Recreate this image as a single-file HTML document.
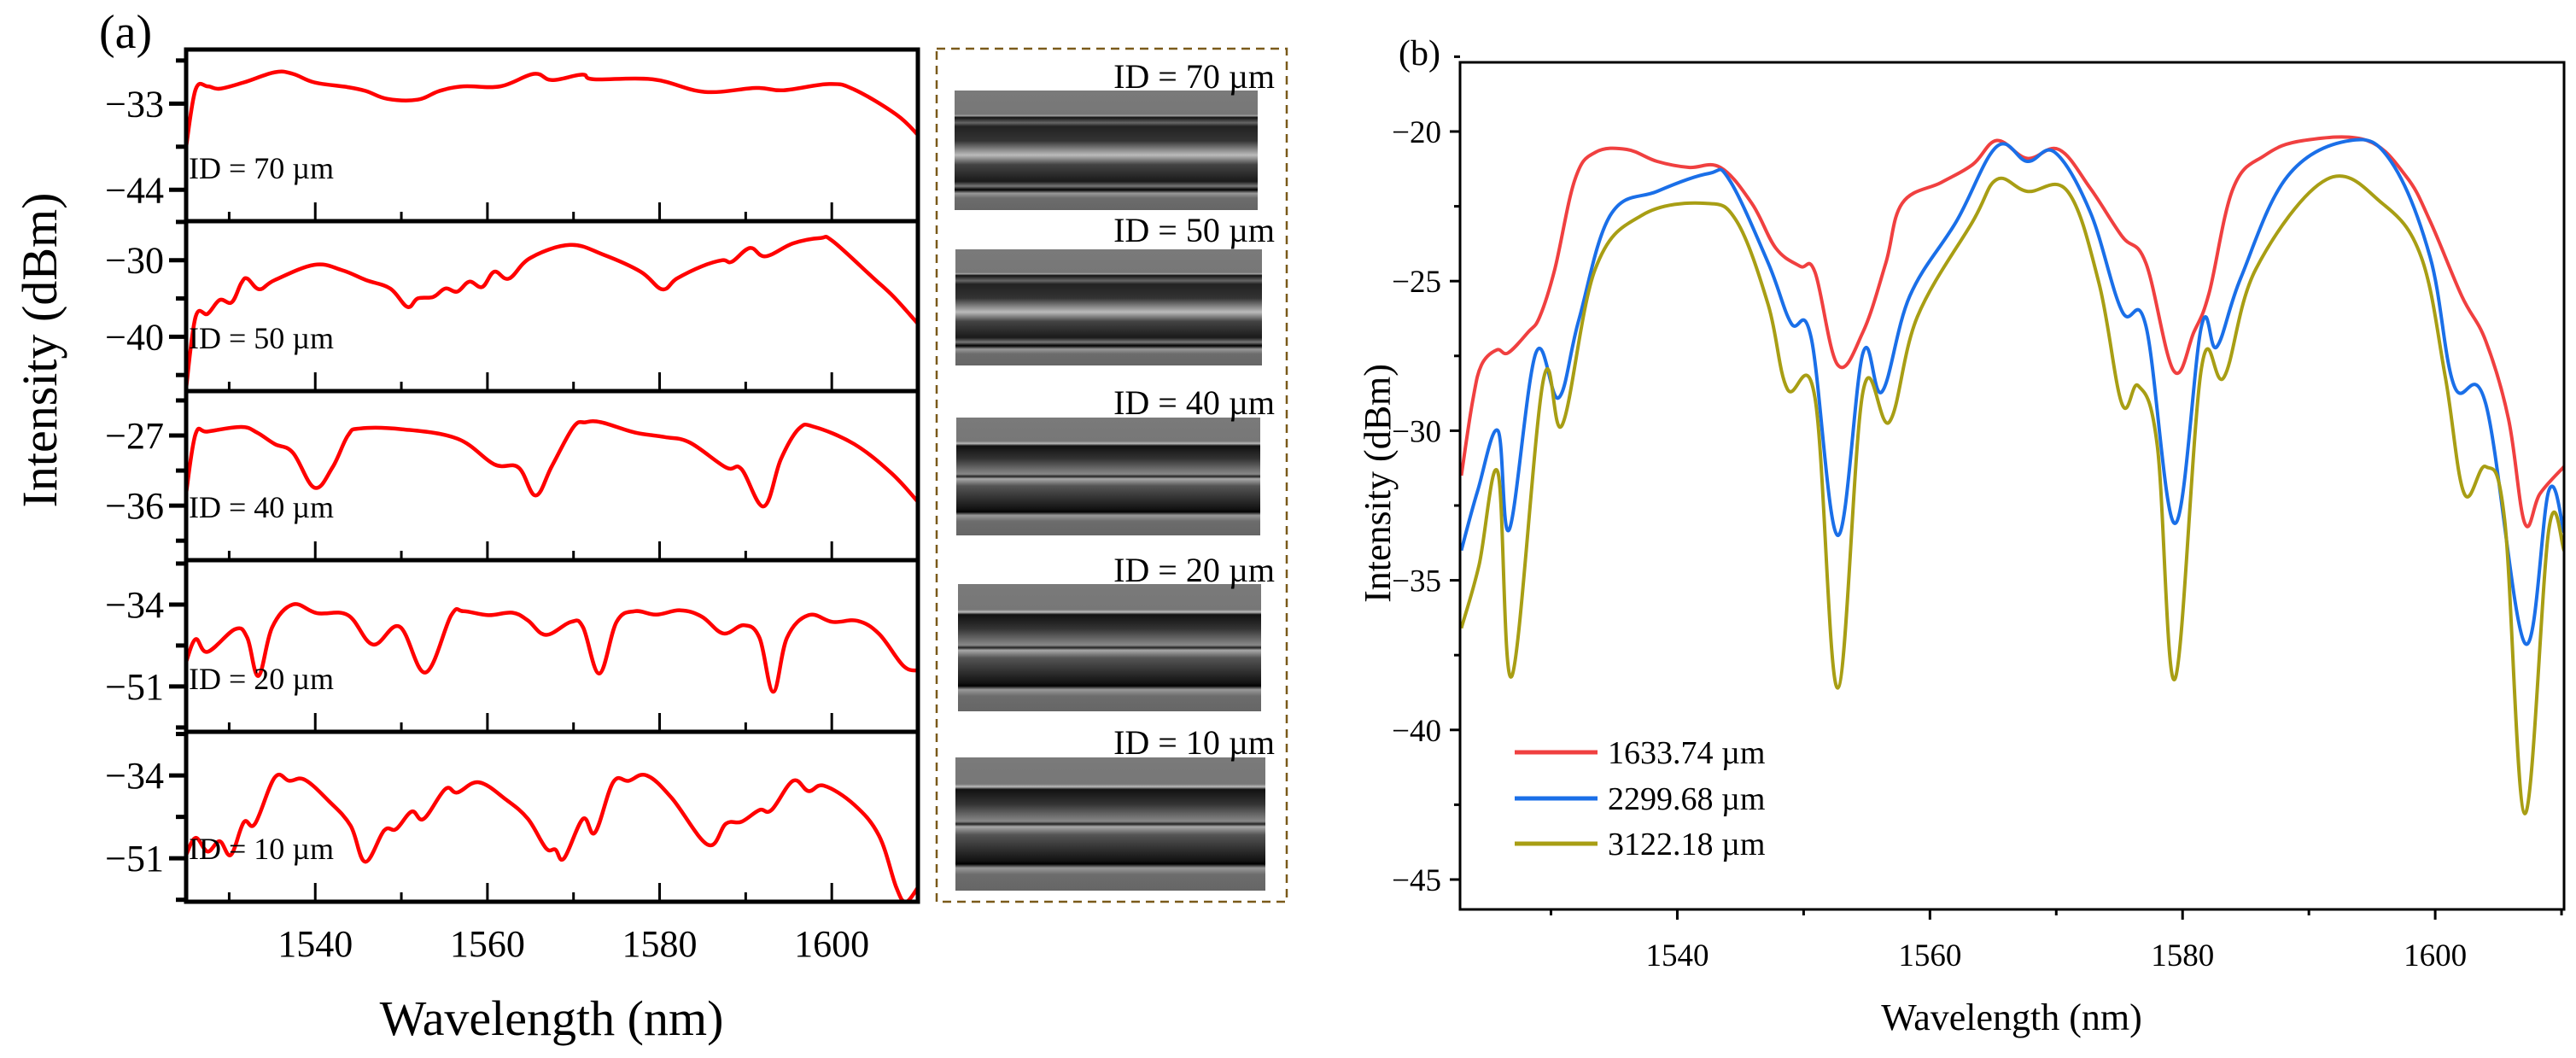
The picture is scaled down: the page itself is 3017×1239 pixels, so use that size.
<!DOCTYPE html>
<html><head><meta charset="utf-8"><style>
html,body{margin:0;padding:0;background:#fff;}
body{width:3017px;height:1239px;overflow:hidden;position:relative;font-family:"Liberation Serif",serif;}
</style></head><body>
<svg id="fig" width="3017" height="1239" viewBox="0 0 3017 1239" xmlns="http://www.w3.org/2000/svg" style="position:absolute;left:0;top:0;font-family:'Liberation Serif',serif;">
<defs>
<linearGradient id="gA" x1="0" y1="0" x2="0" y2="1">
<stop offset="0" stop-color="#7a7a7a"/><stop offset="0.2" stop-color="#777"/>
<stop offset="0.21" stop-color="#aaa"/><stop offset="0.225" stop-color="#111"/><stop offset="0.27" stop-color="#666"/>
<stop offset="0.3" stop-color="#222"/><stop offset="0.42" stop-color="#333"/><stop offset="0.54" stop-color="#bbb"/>
<stop offset="0.62" stop-color="#444"/><stop offset="0.76" stop-color="#1a1a1a"/><stop offset="0.8" stop-color="#777"/>
<stop offset="0.83" stop-color="#000"/><stop offset="0.86" stop-color="#999"/><stop offset="0.9" stop-color="#6c6c6c"/>
<stop offset="1" stop-color="#666"/></linearGradient>
<linearGradient id="gB" x1="0" y1="0" x2="0" y2="1">
<stop offset="0" stop-color="#7a7a7a"/><stop offset="0.2" stop-color="#777"/>
<stop offset="0.22" stop-color="#bbb"/><stop offset="0.24" stop-color="#111"/><stop offset="0.35" stop-color="#333"/>
<stop offset="0.48" stop-color="#888"/><stop offset="0.5" stop-color="#222"/><stop offset="0.52" stop-color="#aaa"/>
<stop offset="0.58" stop-color="#555"/><stop offset="0.78" stop-color="#111"/><stop offset="0.8" stop-color="#000"/>
<stop offset="0.83" stop-color="#999"/><stop offset="0.88" stop-color="#6c6c6c"/><stop offset="1" stop-color="#666"/></linearGradient>
<clipPath id="clipR"><rect x="1710" y="73" width="1293" height="992"/></clipPath>
</defs>
<g id="left"></g>
<g id="images"></g>
<g id="right"></g>
</svg>
<script>
// ---------- shared x domain ----------
const xDomain = [1525, 1610];
const xDomainB = [1522.8, 1610.2];
const xTicks = [1540, 1560, 1580, 1600];
const xMinor = [1530, 1550, 1570, 1590];

// ---------- panel (a) data ----------
const idLabels = ["ID = 70 µm","ID = 50 µm","ID = 40 µm","ID = 20 µm","ID = 10 µm"];
const aTicks = [[-33,-44],[-30,-40],[-27,-36],[-34,-51],[-34,-51]];
const aDomains = [[-26.1,-48.0],[-24.9,-47.1],[-21.3,-43.0],[-24.8,-60.4],[-25.05,-59.9]];
const wl70 = [1525,1526.1,1527.5,1528.9,1531.7,1535.3,1537.4,1539.9,1543.8,1545.9,1548.4,1551.9,1554.4,1557.2,1561.5,1565.4,1567.5,1571.0,1572.4,1579.2,1585.2,1591.2,1594.4,1599.7,1602.6,1607.5,1610];
const id70 = [-38.5,-31.2,-30.8,-31.1,-30.3,-29.0,-29.2,-30.3,-30.9,-31.4,-32.4,-32.5,-31.4,-30.8,-30.8,-29.2,-30.0,-29.3,-29.9,-29.9,-31.5,-31.0,-31.3,-30.5,-31.2,-34.4,-37.0];
const wl50 = [1525,1526.1,1527.5,1528.9,1530.3,1531.4,1532.1,1533.5,1535.3,1539.9,1543.1,1545.9,1548.7,1550.7,1551.9,1553.7,1555.1,1556.5,1557.9,1559.4,1560.8,1562.5,1565.0,1569.6,1573.5,1577.8,1580.3,1582.0,1584.9,1587.3,1588.4,1590.5,1592.3,1595.5,1598.7,1600.1,1604.7,1607.2,1610];
const id50 = [-46.7,-37.4,-37.0,-35.2,-35.5,-33.0,-32.4,-33.8,-32.6,-30.6,-31.3,-32.6,-33.7,-36.1,-35.0,-34.8,-33.7,-34.1,-32.8,-33.5,-31.5,-32.4,-29.7,-28.0,-29.3,-31.5,-33.8,-32.4,-30.8,-30.0,-30.2,-28.4,-29.5,-27.8,-27.1,-27.5,-32.2,-34.8,-38.3];
const wl40 = [1525,1526.1,1527.5,1531.4,1533.2,1535.3,1537.4,1539.9,1542.0,1543.8,1545.2,1550.1,1556.5,1560.8,1563.6,1565.6,1567.5,1570.0,1571.4,1573.2,1577.1,1580.6,1583.5,1587.7,1589.5,1592.1,1594.1,1596.2,1598.0,1602.6,1606.9,1610];
const id40 = [-34.4,-26.8,-26.5,-25.9,-26.6,-28.1,-29.2,-33.7,-31.1,-27.0,-26.1,-26.2,-27.4,-30.7,-31.1,-34.7,-30.9,-25.9,-25.3,-25.3,-26.6,-27.2,-27.9,-31.1,-31.3,-36.1,-30.0,-26.1,-25.9,-28.1,-31.8,-35.5];
const wl20 = [1525,1526.1,1527.5,1530.7,1532.1,1533.4,1535.0,1537.4,1540.2,1543.8,1546.7,1549.8,1552.8,1555.8,1557.2,1560.1,1562.9,1564.7,1566.8,1569.7,1571.1,1573.0,1575.0,1577.1,1579.6,1582.4,1584.9,1587.4,1589.8,1591.6,1593.2,1594.8,1597.3,1600.1,1603.0,1605.5,1608.3,1610];
const id20 = [-45.9,-41.2,-43.8,-39.1,-40.9,-48.8,-38.7,-34.0,-35.8,-36.2,-42.3,-38.6,-48.1,-36.2,-35.4,-36.2,-35.7,-37.3,-40.3,-37.6,-38.7,-48.3,-37.6,-35.4,-36.1,-35.2,-36.5,-40.0,-38.3,-40.9,-52.1,-40.9,-36.2,-37.6,-37.4,-40.1,-46.7,-47.7];
const wl10 = [1525,1526.1,1527.5,1528.9,1530.2,1531.7,1533.0,1535.3,1537.0,1538.8,1541.6,1544.1,1545.8,1548.0,1549.4,1551.2,1552.6,1555.1,1556.5,1559.0,1562.2,1564.7,1566.8,1567.9,1568.9,1571.1,1572.5,1574.6,1576.4,1578.5,1581.4,1585.6,1587.7,1589.5,1591.6,1593.0,1595.5,1597.3,1599.1,1602.6,1605.5,1607.5,1608.6,1610];
const id10 = [-50.3,-46.8,-49.6,-47.5,-50.3,-43.6,-43.9,-34.4,-35.1,-34.9,-39.3,-44.3,-51.7,-45.3,-45.0,-41.4,-42.9,-36.8,-37.5,-35.4,-39.0,-42.9,-48.9,-49.2,-51.0,-42.9,-45.7,-35.4,-35.1,-34.0,-38.6,-48.2,-43.9,-43.5,-41.1,-41.1,-35.1,-37.2,-36.1,-40.0,-46.4,-57.0,-59.9,-57.0];
const aWl = [wl70, wl50, wl40, wl20, wl10];
const aVals = [id70, id50, id40, id20, id10];

// ---------- panel (b) data ----------
const bLegend = ["1633.74 µm","2299.68 µm","3122.18 µm"];
const bYTicks = [-20,-25,-30,-35,-40,-45];
const bWlRed = [1522.9,1523.8,1524.5,1525.7,1526.6,1528.2,1529.1,1530.3,1531.9,1533.5,1536.0,1538.4,1540.9,1543.4,1545.9,1547.8,1549.7,1550.9,1552.7,1554.7,1556.5,1557.8,1560.9,1563.4,1565.3,1567.7,1570.2,1572.7,1575.2,1577.1,1579.3,1580.9,1582.1,1584.0,1586.5,1589.6,1594.6,1597.7,1599.6,1602.1,1604.0,1605.8,1607.1,1608.3,1610.2];
const bRed = [-31.5,-29.0,-27.8,-27.3,-27.4,-26.7,-26.2,-24.6,-21.6,-20.7,-20.6,-21.0,-21.2,-21.2,-22.4,-23.9,-24.5,-24.7,-27.8,-26.7,-24.4,-22.4,-21.7,-21.1,-20.3,-20.9,-20.6,-21.9,-23.5,-24.4,-28.0,-26.7,-25.4,-21.9,-20.8,-20.3,-20.3,-21.5,-23.0,-25.5,-27.0,-29.6,-33.1,-32.1,-31.2];
const bWlBlue = [1522.9,1524.2,1525.8,1526.7,1528.8,1530.6,1532.2,1534.7,1538.4,1542.5,1544.1,1547.2,1549.0,1550.6,1552.7,1554.7,1556.2,1558.4,1562.1,1565.3,1567.7,1569.9,1572.7,1575.2,1577.1,1579.4,1581.5,1582.7,1584.6,1588.3,1593.3,1596.5,1599.6,1601.5,1604.0,1607.1,1609.0,1610.2];
const bBlue = [-34.0,-32.0,-30.0,-33.3,-27.4,-28.9,-26.3,-22.8,-22.0,-21.4,-21.6,-24.4,-26.4,-26.9,-33.5,-27.4,-28.7,-25.5,-23.0,-20.5,-21.0,-20.7,-22.7,-26.0,-26.5,-33.1,-26.5,-27.2,-24.9,-21.5,-20.3,-21.0,-24.2,-28.5,-29.1,-37.1,-32.0,-33.4];
const bWlOlive = [1522.9,1524.3,1525.8,1526.9,1529.4,1530.9,1533.5,1537.2,1542.2,1544.7,1547.2,1548.7,1550.9,1552.7,1554.7,1556.8,1559.0,1563.4,1565.3,1567.7,1570.9,1573.4,1575.2,1576.5,1578.0,1579.4,1581.5,1583.3,1585.8,1591.4,1595.8,1598.9,1600.8,1602.3,1604.0,1605.5,1607.1,1609.0,1610.2];
const bOlive = [-36.6,-34.5,-31.4,-38.2,-28.3,-29.8,-24.6,-22.8,-22.4,-23.0,-25.8,-28.6,-28.9,-38.6,-28.7,-29.7,-26.2,-23.0,-21.6,-22.0,-22.0,-25.1,-29.1,-28.5,-30.5,-38.3,-27.9,-28.2,-24.6,-21.6,-22.4,-24.2,-28.2,-32.1,-31.2,-33.0,-42.8,-33.3,-34.0];

const NS = "http://www.w3.org/2000/svg";
function mk(tag, attrs, parent){ const e=document.createElementNS(NS,tag); for(const k in attrs) e.setAttribute(k,attrs[k]); parent.appendChild(e); return e; }
function smoothPath(pts){
  let d = "M"+pts[0][0].toFixed(1)+","+pts[0][1].toFixed(1);
  for(let i=0;i<pts.length-1;i++){
    const p0=pts[Math.max(0,i-1)], p1=pts[i], p2=pts[i+1], p3=pts[Math.min(pts.length-1,i+2)];
    const t=0.18;
    const c1=[p1[0]+(p2[0]-p0[0])*t, p1[1]+(p2[1]-p0[1])*t];
    const c2=[p2[0]-(p3[0]-p1[0])*t, p2[1]-(p3[1]-p1[1])*t];
    d+=" C"+c1[0].toFixed(1)+","+c1[1].toFixed(1)+" "+c2[0].toFixed(1)+","+c2[1].toFixed(1)+" "+p2[0].toFixed(1)+","+p2[1].toFixed(1);
  }
  return d;
}

// ---------- draw (a) ----------
const L = document.getElementById("left");
const aLeft=218, aRight=1075, aTops=[58,259,458,656,857,1056];
const ax = v => aLeft + (v-xDomain[0])/(xDomain[1]-xDomain[0])*(aRight-aLeft);
let t = mk("text",{x:116,y:56,"font-size":"56"},L); t.textContent="(a)";


for(let p=0;p<5;p++){
  const top=aTops[p], bot=aTops[p+1], dom=aDomains[p];
  const ay = v => top + (dom[0]-v)/(dom[0]-dom[1])*(bot-top);
  const g = mk("g",{},L);
  
  
  const cid="clipA"+p;
  const cp = mk("clipPath",{id:cid},g); mk("rect",{x:aLeft,y:top,width:aRight-aLeft,height:bot-top},cp);
  const pts = aWl[p].map((w,i)=>[ax(w), ay(aVals[p][i])]);
  const path = mk("path",{d:smoothPath(pts),fill:"none",stroke:"#ff0000","stroke-width":"4.5","stroke-linejoin":"round","clip-path":"url(#"+cid+")"},g);
  
  
  const [t1,t2]=aTicks[p], step=t1-t2;
  [t1,t2].forEach(v=>{
    mk("line",{x1:aLeft-20,x2:aLeft,y1:ay(v),y2:ay(v),stroke:"#000","stroke-width":"5"},g);
    const lab=mk("text",{x:aLeft-26,y:ay(v)+15,"font-size":"44","text-anchor":"end"},g);
    lab.textContent="\u2212"+Math.abs(v);
    
    
  });
  [t1+step/2, t1-step/2, t2-step/2].forEach(v=>{
    const y=ay(v); if(y>=top-2 && y<=bot+2) mk("line",{x1:aLeft-12,x2:aLeft,y1:y,y2:y,stroke:"#000","stroke-width":"5"},g);
  });
  xTicks.forEach(v=>mk("line",{x1:ax(v),x2:ax(v),y1:bot,y2:bot-22,stroke:"#000","stroke-width":"3"},g));
  xMinor.forEach(v=>mk("line",{x1:ax(v),x2:ax(v),y1:bot,y2:bot-11,stroke:"#000","stroke-width":"3"},g));
  mk("rect",{x:aLeft,y:top,width:aRight-aLeft,height:bot-top,fill:"none",stroke:"#000","stroke-width":"5"},g);
  const il=mk("text",{x:aLeft+3,y:bot-50,"font-size":"36"},g); il.textContent=idLabels[p];
  
  
}
xTicks.forEach(v=>{
  const lab=mk("text",{x:ax(v),y:1120,"font-size":"44","text-anchor":"middle"},L); lab.textContent=v;
  
  
});
t=mk("text",{x:646,y:1212,"font-size":"58","text-anchor":"middle"},L); t.textContent="Wavelength (nm)";


t=mk("text",{x:0,y:0,"font-size":"58","text-anchor":"middle",transform:"translate(66,410) rotate(-90)"},L); t.textContent="Intensity (dBm)";



// ---------- images ----------
const IM = document.getElementById("images");
mk("rect",{x:1097,y:57,width:410,height:999,fill:"none",stroke:"#7a5a1a","stroke-width":"2.5","stroke-dasharray":"10,7"},IM);
const imgBoxes=[[1118,106,355,140,"gA",103],[1119,292,359,136,"gA",283],[1120,489,356,138,"gB",485],[1122,684,355,149,"gB",681],[1119,887,363,156,"gB",883]];
imgBoxes.forEach((b,i)=>{
  const r=mk("rect",{x:b[0],y:b[1],width:b[2],height:b[3],fill:"url(#"+b[4]+")"},IM);
  
  
  const lab=mk("text",{x:1493,y:b[5],"font-size":"40","text-anchor":"end"},IM); lab.textContent=idLabels[i];
  
  
});

// ---------- draw (b) ----------
const R = document.getElementById("right");
const bL=1710,bR=3003,bT=73,bB=1065;
const bx = v => bL + (v-xDomainB[0])/(xDomainB[1]-xDomainB[0])*(bR-bL);
const by = v => 154 + (-20 - v)/25*(1030-154);
t=mk("text",{x:1638,y:76,"font-size":"42"},R); t.textContent="(b)";


const series=[[bWlRed,bRed,"#f04040"],[bWlBlue,bBlue,"#1a6fe8"],[bWlOlive,bOlive,"#a89e14"]];
series.forEach((s,i)=>{
  const pts=s[0].map((w,k)=>[bx(w),by(s[1][k])]);
  const p=mk("path",{d:smoothPath(pts),fill:"none",stroke:s[2],"stroke-width":"4","stroke-linejoin":"round","clip-path":"url(#clipR)"},R);
  
  
});
mk("rect",{x:bL,y:bT,width:bR-bL,height:bB-bT,fill:"none",stroke:"#000","stroke-width":"3"},R);
bYTicks.forEach(v=>{
  mk("line",{x1:bL-12,x2:bL,y1:by(v),y2:by(v),stroke:"#000","stroke-width":"3"},R);
  if(by(v-2.5)<bB) mk("line",{x1:bL-7,x2:bL,y1:by(v-2.5),y2:by(v-2.5),stroke:"#000","stroke-width":"3"},R);
  const lab=mk("text",{x:1688,y:by(v)+13,"font-size":"37","text-anchor":"end"},R); lab.textContent="\u2212"+Math.abs(v);
  
  
});
mk("line",{x1:bL-7,x2:bL,y1:by(-17.5),y2:by(-17.5),stroke:"#000","stroke-width":"3"},R);
xTicks.forEach(v=>{
  mk("line",{x1:bx(v),x2:bx(v),y1:bB,y2:bB+12,stroke:"#000","stroke-width":"3"},R);
  const lab=mk("text",{x:bx(v),y:1131,"font-size":"37","text-anchor":"middle"},R); lab.textContent=v;
  
  
});
xMinor.concat([1610]).forEach(v=>mk("line",{x1:bx(v),x2:bx(v),y1:bB,y2:bB+7,stroke:"#000","stroke-width":"3"},R));
t=mk("text",{x:2356,y:1206,"font-size":"44","text-anchor":"middle"},R); t.textContent="Wavelength (nm)";


t=mk("text",{x:0,y:0,"font-size":"44","text-anchor":"middle",transform:"translate(1628,566) rotate(-90)"},R); t.textContent="Intensity (dBm)";


const legY=[881,935,988];
series.forEach((s,i)=>{
  const g=mk("g",{},R);
  
  
  mk("line",{x1:1774,x2:1871,y1:legY[i],y2:legY[i],stroke:s[2],"stroke-width":"5"},g);
  const lab=mk("text",{x:1883,y:legY[i]+13,"font-size":"38"},g); lab.textContent=bLegend[i];
});
</script>
</body></html>
